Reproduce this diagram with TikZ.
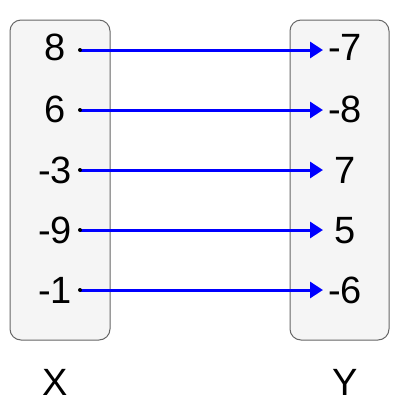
\documentclass[tikz,border=0pt]{standalone}
\usepackage{fontspec}
\setmainfont{Liberation Sans}
\usetikzlibrary{arrows.meta}
\definecolor{boxfill}{HTML}{F5F5F5}
\definecolor{boxline}{HTML}{666666}
\definecolor{arrblue}{HTML}{0000FF}
\begin{document}
\begin{tikzpicture}[x=1pt,y=-1pt,
  setbox/.style={draw=boxline,fill=boxfill,line width=1pt,rounded corners=11pt},
  lnum/.style={inner sep=0pt,minimum width=50pt,text height=27pt,text depth=0pt,font=\fontsize{38}{42}\selectfont},
  rnum/.style={inner sep=0pt,minimum width=44pt,text height=27pt,text depth=0pt,font=\fontsize{38}{42}\selectfont},
  setlabel/.style={inner sep=0pt,text height=27pt,text depth=0pt,font=\fontsize{38}{42}\selectfont},
  maparrow/.style={draw=arrblue,line width=3pt,-{Triangle[length=13pt,width=16pt]}},
  startdot/.style={fill=black}]
\useasboundingbox (0,0) rectangle (400,400);
\path[setbox] (10,20) rectangle (110,340);
\path[setbox] (290,20) rectangle (389,340);
\node[lnum] (x1) at (55,47) {8};
\node[lnum] (x2) at (55,109) {6};
\node[lnum] (x3) at (55,170) {-3};
\node[lnum] (x4) at (55,230) {-9};
\node[lnum] (x5) at (55,290) {-1};
\node[rnum] (y1) at (345,47) {-7};
\node[rnum] (y2) at (345,109) {-8};
\node[rnum] (y3) at (345,170) {7};
\node[rnum] (y4) at (345,230) {5};
\node[rnum] (y5) at (345,290) {-6};
\coordinate (s1) at (80,50);
\coordinate (s2) at (80,110);
\coordinate (s3) at (80,170);
\coordinate (s4) at (80,230);
\coordinate (s5) at (80,290);
\coordinate (t1) at (323,50);
\coordinate (t2) at (323,110);
\coordinate (t3) at (323,170);
\coordinate (t4) at (323,230);
\coordinate (t5) at (323,290);
\foreach \i in {1,...,5}{
  \draw[maparrow] (s\i) -- (t\i);
  \fill[startdot] (s\i) circle (2pt);
}
\node[setlabel] (xl) at (55,382) {X};
\node[setlabel] (yl) at (345,382) {Y};
\end{tikzpicture}
\end{document}
